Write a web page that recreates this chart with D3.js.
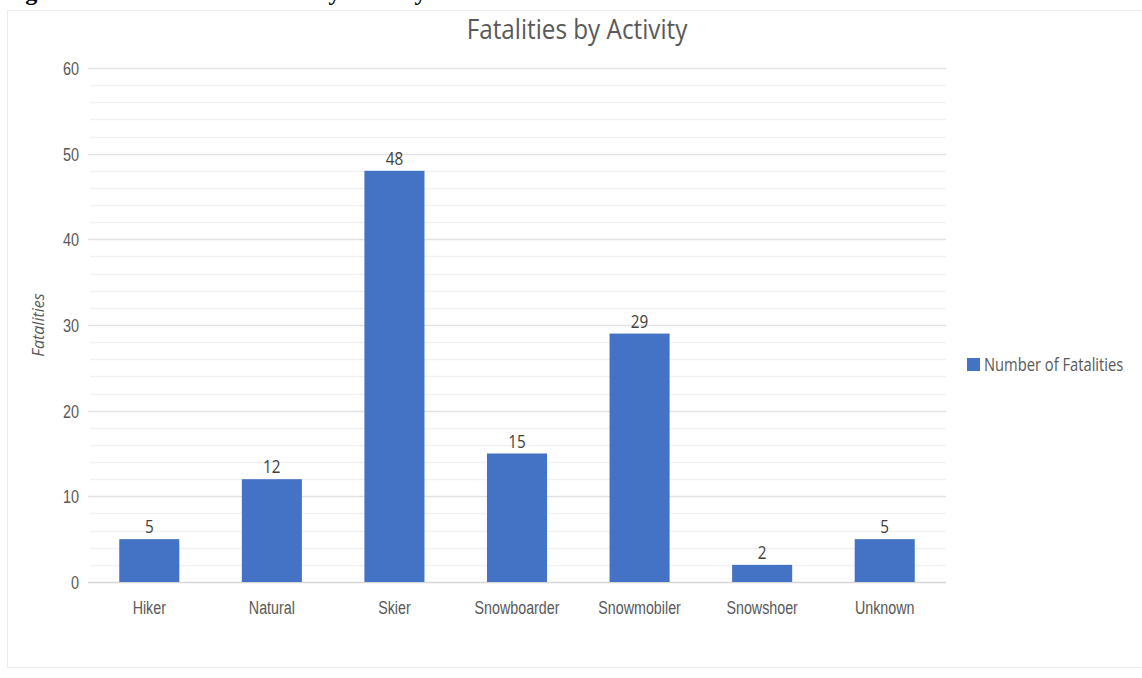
<!DOCTYPE html>
<html lang="en">
<head>
  <meta charset="UTF-8">
  <title>Fatalities by Activity</title>
  <script src="https://d3js.org/d3.v7.min.js"></script>
  <style>
    body {
      margin: 0;
      background: #fff;
    }
    svg {
      display: block;
      font-family: "Open Sans", sans-serif;
    }
  </style>
</head>
<body>
<svg width="1142" height="678"></svg>

<script>
  // chart data
  const activities = ["Hiker", "Natural", "Skier", "Snowboarder", "Snowmobiler", "Snowshoer", "Unknown"];
  const fatalities = [5, 12, 48, 15, 29, 2, 5];
  const yTicks = [0, 10, 20, 30, 40, 50, 60];
  const minorTicks = d3.range(0, 61, 2);

  const svg = d3.select("svg");
  const textColor = "#595959";
  const barColor = "#4472C4";

  // cropped caption line at the very top (only the descenders show)
  svg.append("text")
    .attr("x", 4)
    .attr("y", 0)
    .style("font-family", "'Liberation Serif', serif")
    .style("font-weight", "bold")
    .style("font-size", "24px")
    .attr("fill", "#000")
    .text("Figure 6: Avalanche Fatalities by Activity");

  // chart frame
  svg.append("rect")
    .attr("x", 7.5)
    .attr("y", 10.5)
    .attr("width", 1140)
    .attr("height", 657)
    .attr("fill", "#fff")
    .attr("stroke", "#ececec");

  const margin = {left: 88, right: 1142 - 946, top: 68, bottom: 678 - 582};
  const width = 1142 - margin.left - margin.right;
  const height = 678 - margin.top - margin.bottom;

  const g = svg.append("g").attr("transform", `translate(${margin.left},${margin.top})`);

  const x = d3.scaleBand().domain(activities).range([0, width]).paddingInner(0.51).paddingOuter(0.255);
  const y = d3.scaleLinear().domain([0, 60]).range([height, 0]);

  // minor gridlines
  g.selectAll(".minor")
    .data(minorTicks.filter(d => d % 10 !== 0))
    .join("line")
    .attr("x1", 2).attr("x2", width)
    .attr("y1", d => Math.round(y(d)) + 0.5)
    .attr("y2", d => Math.round(y(d)) + 0.5)
    .attr("stroke", "#f1f1f1")
    .attr("stroke-width", 1.5);

  // major gridlines
  g.selectAll(".major")
    .data(yTicks)
    .join("line")
    .attr("x1", 0).attr("x2", width)
    .attr("y1", d => Math.round(y(d)) + 0.5)
    .attr("y2", d => Math.round(y(d)) + 0.5)
    .attr("stroke", d => d === 0 ? "#d6d6d6" : "#e2e2e2")
    .attr("stroke-width", 1.5);

  // y axis labels
  const yAxis = g.append("g").call(d3.axisLeft(y).tickValues(yTicks).tickSize(0));
  yAxis.select(".domain").remove();
  yAxis.selectAll(".tick text")
    .attr("x", 0)
    .attr("dy", "0.36em")
    .attr("transform", "translate(-9,0) scale(0.85,1.05)")
    .attr("fill", textColor)
    .style("font-size", "17px");

  // x axis labels, a little condensed like the reference
  const xAxis = g.append("g")
    .attr("transform", `translate(0,${height})`)
    .call(d3.axisBottom(x).tickSize(0).tickPadding(0));
  xAxis.select(".domain").remove();
  xAxis.selectAll(".tick text")
    .attr("y", 0)
    .attr("dy", 0)
    .attr("transform", "translate(0,32) scale(0.84,1.05)")
    .attr("fill", textColor)
    .style("font-size", "17px");

  // bars
  g.selectAll(".bar")
    .data(activities)
    .join("rect")
    .attr("x", d => x(d))
    .attr("y", (d, i) => y(fatalities[i]))
    .attr("width", x.bandwidth())
    .attr("height", (d, i) => y(0) - y(fatalities[i]))
    .attr("fill", barColor);

  // value labels
  g.selectAll(".value")
    .data(activities)
    .join("text")
    .attr("transform", (d, i) => `translate(${x(d) + x.bandwidth() / 2},${y(fatalities[i]) - 6}) scale(0.9,1.05)`)
    .attr("text-anchor", "middle")
    .attr("fill", "#404040")
    .style("font-size", "17px")
    .text((d, i) => fatalities[i]);

  // title
  svg.append("text")
    .attr("transform", "translate(577,39) scale(0.97,1.12)")
    .attr("text-anchor", "middle")
    .attr("fill", textColor)
    .style("font-size", "25px")
    .text("Fatalities by Activity");

  // y axis title
  svg.append("text")
    .attr("transform", "translate(44,325) rotate(-90)")
    .attr("text-anchor", "middle")
    .attr("fill", textColor)
    .style("font-size", "16px")
    .style("font-style", "italic")
    .text("Fatalities");

  // legend
  const legend = svg.append("g").attr("transform", "translate(967,358)");
  legend.append("rect")
    .attr("width", 13)
    .attr("height", 13)
    .attr("fill", barColor);
  legend.append("text")
    .attr("transform", "translate(17,13) scale(0.92,1.08)")
    .attr("fill", textColor)
    .style("font-size", "16px")
    .text("Number of Fatalities");
</script>

</body>
</html>
